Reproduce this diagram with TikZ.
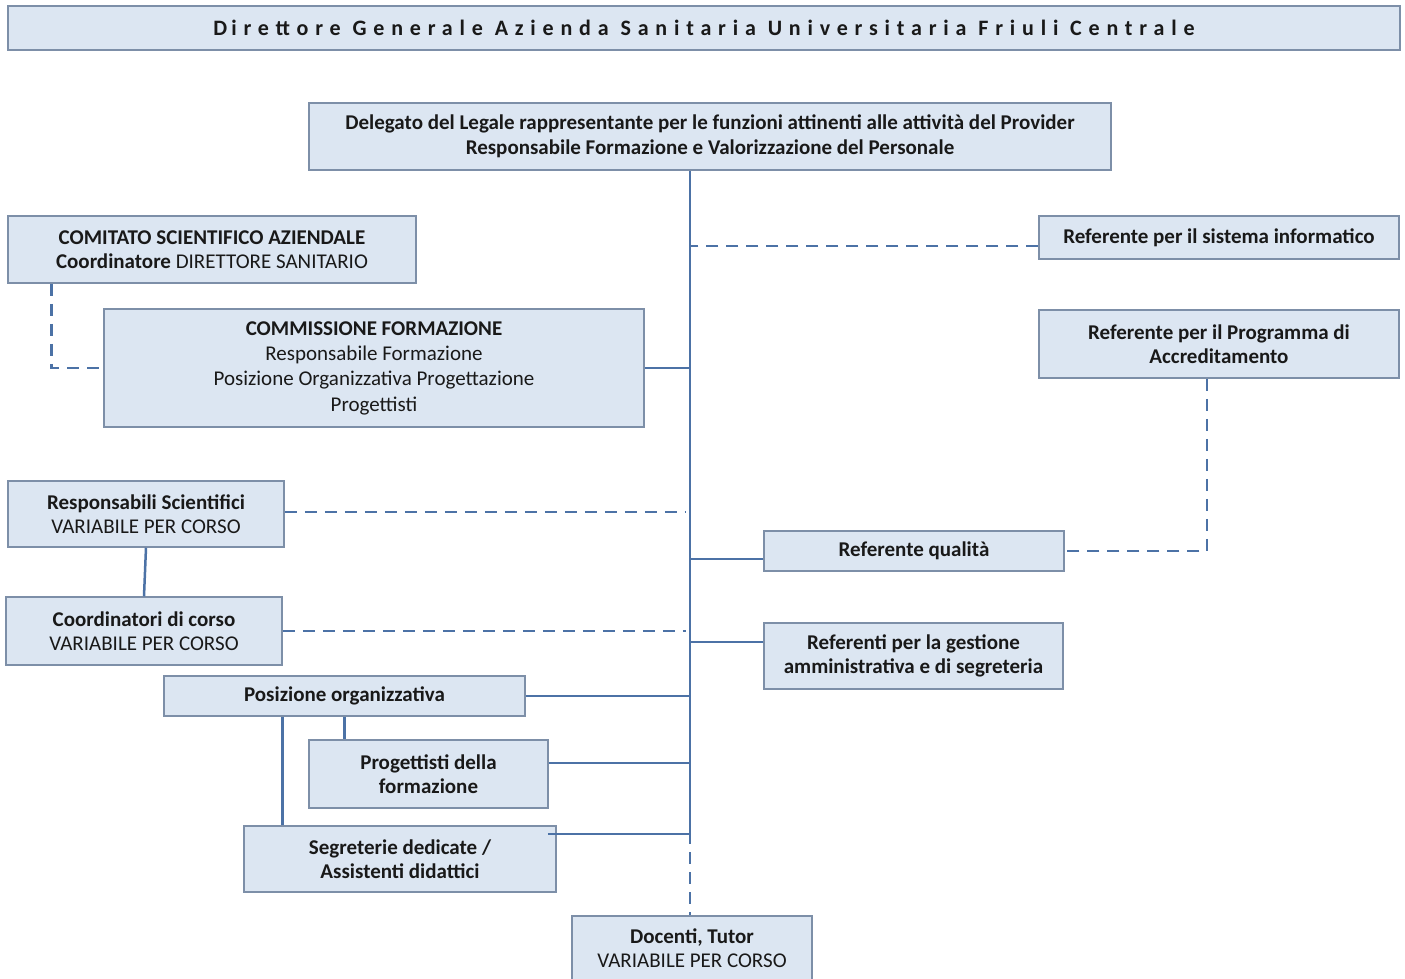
\documentclass[tikz,border=0pt]{standalone}
\usepackage{fontspec}
\setmainfont{Carlito}
\newfontfamily\titlefont[LetterSpace=31]{Carlito}
\usetikzlibrary{calc}
\definecolor{boxfill}{RGB}{220,230,242}
\definecolor{boxline}{RGB}{125,143,168}
\definecolor{conn}{RGB}{76,114,166}
\definecolor{txt}{RGB}{25,25,25}
\tikzset{
  box/.style={draw=boxline, line width=1.5pt, fill=boxfill, align=center, inner sep=0pt,
    font=\fontsize{21}{24.5}\selectfont, text=txt},
  solidc/.style={draw=conn, line width=2.5pt},
  dashc/.style={draw=conn, line width=2.5pt, dash pattern=on 12pt off 8pt},
}
\begin{document}
\begin{tikzpicture}[x=1pt,y=-1pt]
\useasboundingbox (0,0) rectangle (1405,978);
\clip (0,0) rectangle (1405,978);
\fill[white] (0,0) rectangle (1405,978);

% nodes
\node[box, minimum width=1392, minimum height=44] (dg) at (704,28)
  {\titlefont\bfseries\fontsize{22}{24}\selectfont D\kern4pt irettore Generale Azienda Sanitaria Universitaria Friuli Centrale};
\node[box, minimum width=802, minimum height=67] (del) at (710,136.5)
  {\bfseries Delegato del Legale rappresentante per le funzioni attinenti alle attività del Provider\\
   \bfseries Responsabile Formazione e Valorizzazione del Personale};
\node[box, minimum width=408, minimum height=67] (cs) at (212,249.5)
  {\bfseries COMITATO SCIENTIFICO AZIENDALE\\ \textbf{Coordinatore} DIRETTORE SANITARIO};
\node[box, minimum width=540, minimum height=118, font=\fontsize{21}{25.3}\selectfont] (cf) at (374,368)
  {\bfseries COMMISSIONE FORMAZIONE\\ Responsabile Formazione\\ Posizione Organizzativa Progettazione\\ Progettisti};
\node[box, minimum width=360, minimum height=43] (ris) at (1219,237.5)
  {\bfseries Referente per il sistema informatico};
\node[box, minimum width=360, minimum height=68] (rp) at (1219,344)
  {\bfseries Referente per il Programma di\\ \bfseries Accreditamento};
\node[box, minimum width=276, minimum height=66] (rs) at (146,514)
  {\bfseries Responsabili Scientifici\\ VARIABILE PER CORSO};
\node[box, minimum width=300, minimum height=40] (rq) at (914,551)
  {\bfseries Referente qualità};
\node[box, minimum width=276, minimum height=68] (co) at (144,631)
  {\bfseries Coordinatori di corso\\ VARIABILE PER CORSO};
\node[box, minimum width=299, minimum height=66] (rg) at (913.5,656)
  {\bfseries Referenti per la gestione\\ \bfseries amministrativa e di segreteria};
\node[box, minimum width=361, minimum height=40] (po) at (344.5,696)
  {\bfseries Posizione organizzativa};
\node[box, minimum width=239, minimum height=68] (pg) at (428.5,774)
  {\bfseries Progettisti della\\ \bfseries formazione};
\node[box, minimum width=312, minimum height=66] (sg) at (400,859)
  {\bfseries Segreterie dedicate /\\ \bfseries Assistenti didattici};
\node[box, minimum width=240, minimum height=64] (doc) at (692,948)
  {\bfseries Docenti, Tutor\\ VARIABILE PER CORSO};

% trunk
\coordinate (t0) at ([xshift=-20pt]del.south);
\coordinate (tb) at (690,840);
\draw[solidc] (t0) -- (tb);
\draw[dashc, dash phase=-12pt] (tb) -- (tb |- doc.north);

% branches
\draw[dashc] ([yshift=-8.5pt]ris.west) coordinate (a1) -- (a1 -| t0);
\draw[solidc] (cf.east) -- (cf.east -| t0);
\draw[dashc] ([yshift=2pt]rs.east) coordinate (a2) -- ($(a2 -| t0)+(-4,0)$);
\draw[solidc] ([yshift=-8pt]rq.west) coordinate (a3) -- (a3 -| t0);
\draw[dashc] (co.east) -- ($(co.east -| t0)+(-4,0)$);
\draw[solidc] ([yshift=14pt]rg.west) coordinate (a4) -- (a4 -| t0);
\draw[solidc] (po.east) -- (po.east -| t0);
\draw[solidc] ([yshift=11pt]pg.east) coordinate (a5) -- (a5 -| t0);
\draw[solidc] ([xshift=-9pt,yshift=25pt]sg.east) coordinate (a6) -- (a6 -| t0);

% side links
\draw[dashc] ([xshift=44pt]cs.south west) |- (cf.west);
\draw[dashc] ([xshift=-12pt]rp.south) |- (rq.east);
\draw[solidc] (rs.south) -- (co.north);
\draw[solidc] (po.south) -- (po.south |- pg.north);
\draw[solidc] ([xshift=-62pt]po.south) coordinate (a7) -- (a7 |- sg.north);
\end{tikzpicture}
\end{document}
